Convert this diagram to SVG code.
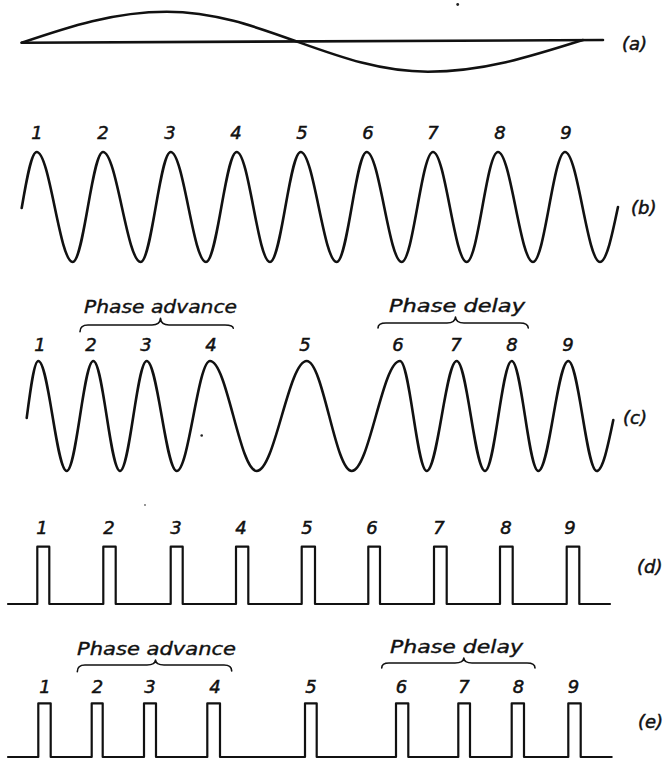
<svg xmlns="http://www.w3.org/2000/svg" width="671" height="760" viewBox="0 0 671 760">
<style>
.w{fill:none;stroke:#111;stroke-width:2.6;stroke-linejoin:round;stroke-linecap:round}
.p{fill:none;stroke:#111;stroke-width:2.2;stroke-linejoin:round;stroke-linecap:round}
.br{fill:none;stroke:#111;stroke-width:1.6;stroke-linecap:round;stroke-linejoin:round}
.n{font-family:"DejaVu Sans","Liberation Sans",sans-serif;font-style:italic;font-size:18px;fill:#111;stroke:#111;stroke-width:0.5;text-anchor:middle}
.lb{font-family:"DejaVu Sans","Liberation Sans",sans-serif;font-style:italic;font-size:18px;fill:#111;stroke:#111;stroke-width:0.5}
.ph{font-family:"DejaVu Sans","Liberation Sans",sans-serif;font-style:italic;font-size:18px;fill:#111;stroke:#111;stroke-width:0.4}
</style>
<rect width="671" height="760" fill="#fff"/>

<g id="row-a">
<path class="w" d="M21.7 42.7 L603 40"/>
<path class="w" d="M21.7 42.7 C69 26.6 114.2 11.7 166.7 11.7 C213.8 11.7 254.3 26.1 296.7 41.5 C339.5 56.8 380.5 71.7 428 71.7 C484.1 71.7 532.4 56 583 40"/>
<text class="lb" x="622" y="50">(a)</text>
<circle cx="457.7" cy="4.5" r="1.4" fill="#222"/>
</g>

<g id="row-b">
<path class="w" d="M21.7 208 C26.6 179.3 31.3 152 36.7 152 C49.8 152 59.6 262 72.7 262 C83.7 262 92 152 103 152 C116.7 152 127 262 140.7 262 C151.6 262 159.8 152 170.7 152 C183.5 152 193.2 262 206 262 C217.2 262 225.5 152 236.7 152 C248.8 152 257.9 262 270 262 C281.2 262 289.5 152 300.7 152 C313.8 152 323.6 262 336.7 262 C347.6 262 355.8 152 366.7 152 C379.4 152 389 262 401.7 262 C413.1 262 421.6 152 433 152 C445.2 152 454.5 262 466.7 262 C478.1 262 486.6 152 498 152 C510.7 152 520.3 262 533 262 C544.6 262 553.4 152 565 152 C577.7 152 587.3 262 600 262 C606.5 262 612.1 235.2 618 207"/>
<g class="n">
<text x="37" y="139">1</text><text x="103" y="139">2</text><text x="170" y="139">3</text><text x="236" y="139">4</text><text x="302" y="139">5</text><text x="368" y="139">6</text><text x="433" y="139">7</text><text x="500" y="139">8</text><text x="566" y="139">9</text>
</g>
<text class="lb" x="631" y="214">(b)</text>
</g>

<g id="row-c">
<path class="w" d="M26.7 418 C30.5 388.8 34.1 361 38.3 361 C48.6 361 56.4 471 66.7 471 C76.4 471 83.6 361 93.3 361 C103 361 110.3 471 120 471 C129.7 471 137 361 146.7 361 C157.6 361 165.8 471 176.7 471 C188.8 471 197.9 361 210 361 C227 361 239.7 471 256.7 471 C274.9 471 288.5 361 306.7 361 C323.1 361 335.3 471 351.7 471 C369.3 471 382.4 361 400 361 C409.7 361 417 471 426.7 471 C437.6 471 445.8 361 456.7 361 C467 361 474.7 471 485 471 C494.7 471 502 361 511.7 361 C521.4 361 528.6 471 538.3 471 C549.2 471 557.4 361 568.3 361 C578.6 361 586.4 471 596.7 471 C602.7 471 607.9 446.1 613.3 420"/>
<g class="n">
<text x="40" y="351">1</text><text x="91" y="351">2</text><text x="146" y="351">3</text><text x="211" y="351">4</text><text x="305" y="351">5</text><text x="398" y="351">6</text><text x="456" y="351">7</text><text x="512" y="351">8</text><text x="568" y="351">9</text>
</g>
<text class="ph" x="84" y="313" textLength="153" lengthAdjust="spacingAndGlyphs">Phase advance</text>
<path class="br" d="M80 331.7 Q80 325 88 325 H152 Q160 325 160.5 318.3 Q161 325 169 325 H225 Q233 325 233.3 328.3"/>
<text class="ph" x="389" y="312" textLength="136" lengthAdjust="spacingAndGlyphs">Phase delay</text>
<path class="br" d="M378 328 Q378 323 386 323 H447 Q455 323 455.5 317 Q456 323 464 323 H520 Q528 323 528.3 328"/>
<text class="lb" x="623" y="424">(c)</text>
<circle cx="201.7" cy="435.5" r="1.3" fill="#222"/>
</g>

<g id="row-d">
<path class="p" d="M8 604 H37.3 V546.7 H49.3 V604 H103.3 V546.7 H115.7 V604 H170.7 V546.7 H182.7 V604 H236 V546.7 H248.3 V604 H301.7 V546.7 H315 V604 H368.3 V546.7 H380 V604 H434 V546.7 H446.7 V604 H500 V546.7 H512.7 V604 H566.7 V546.7 H579.3 V604 H610"/>
<g class="n">
<text x="42" y="534">1</text><text x="109" y="534">2</text><text x="176" y="534">3</text><text x="241" y="534">4</text><text x="307" y="534">5</text><text x="372" y="534">6</text><text x="439" y="534">7</text><text x="506" y="534">8</text><text x="570" y="534">9</text>
</g>
<text class="lb" x="637" y="573">(d)</text>
<circle cx="145" cy="505" r="0.9" fill="#666"/>
</g>

<g id="row-e">
<path class="p" d="M8 757 H38.3 V703.3 H50.7 V757 H91.7 V703.3 H102.7 V757 H144 V703.3 H156 V757 H207.3 V703.3 H220 V757 H305 V703.3 H316.7 V757 H396 V703.3 H408.3 V757 H458.3 V703.3 H470 V757 H511.7 V703.3 H524 V757 H568.3 V703.3 H580.7 V757 H611.7"/>
<g class="n">
<text x="45" y="693">1</text><text x="97.5" y="693">2</text><text x="150" y="693">3</text><text x="215" y="693">4</text><text x="311" y="693">5</text><text x="401.5" y="693">6</text><text x="464" y="693">7</text><text x="518.5" y="693">8</text><text x="573.5" y="693">9</text>
</g>
<text class="ph" x="77" y="655" textLength="159" lengthAdjust="spacingAndGlyphs">Phase advance</text>
<path class="br" d="M77.3 671.7 Q77.3 665 85 665 H147 Q155 665 155.5 660 Q156 665 164 665 H224 Q231.7 665 231.7 671"/>
<text class="ph" x="390" y="653" textLength="133" lengthAdjust="spacingAndGlyphs">Phase delay</text>
<path class="br" d="M381.7 668 Q381.7 663 389 663 H455 Q463.3 663 463.8 658 Q464.3 663 472 663 H527 Q535 663 535 668"/>
<text class="lb" x="638" y="728">(e)</text>
</g>
</svg>
